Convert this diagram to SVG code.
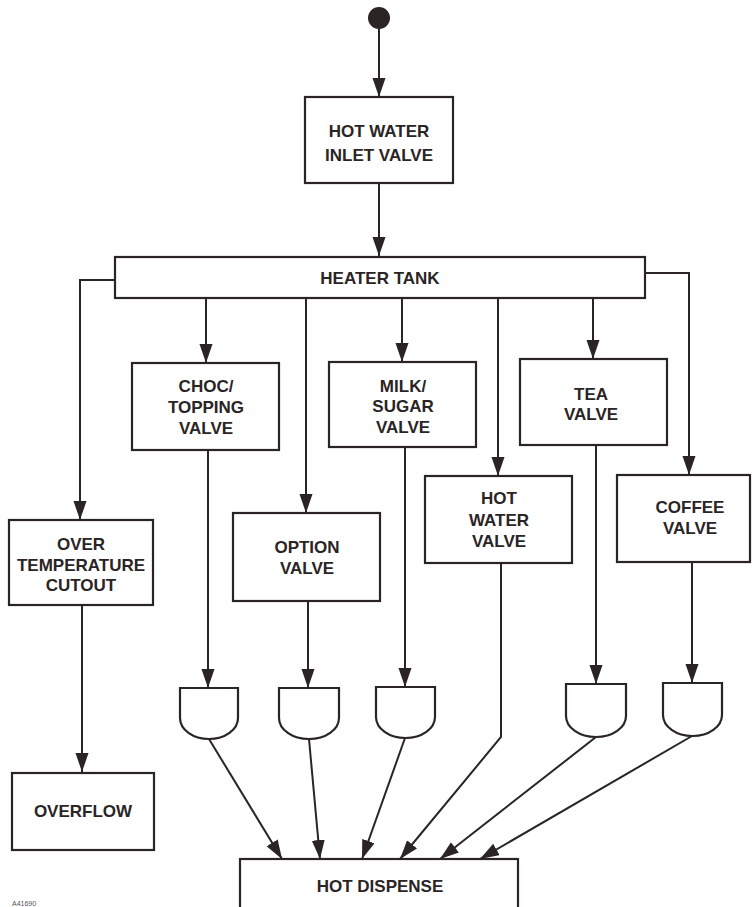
<svg xmlns="http://www.w3.org/2000/svg" width="753" height="907" viewBox="0 0 753 907">
<style>
.box{fill:#fff;stroke:#2a2425;stroke-width:2.2}
.ln{fill:none;stroke:#2a2425;stroke-width:2}
.t{font-family:"Liberation Sans",Arial,sans-serif;font-weight:bold;font-size:17px;fill:#2a2425;text-anchor:middle}
.s{font-family:"Liberation Sans",Arial,sans-serif;font-size:7px;fill:#555}
</style>
<defs>
<marker id="ah" markerUnits="userSpaceOnUse" markerWidth="20" markerHeight="14" refX="19" refY="6.5" orient="auto">
<path d="M0,0 L19,6.5 L0,13 Z" fill="#2a2425"/>
</marker>
</defs>
<rect width="753" height="907" fill="#fff"/>
<g id="connectors">
<line class="ln" x1="379" y1="28" x2="379" y2="97" marker-end="url(#ah)"/>
<line class="ln" x1="379" y1="183" x2="379" y2="256" marker-end="url(#ah)"/>
<polyline class="ln" points="115,280 80,280 80,520" marker-end="url(#ah)"/>
<polyline class="ln" points="645,273 689,273 689,475" marker-end="url(#ah)"/>
<line class="ln" x1="206" y1="298" x2="206" y2="363" marker-end="url(#ah)"/>
<line class="ln" x1="306" y1="298" x2="306" y2="513" marker-end="url(#ah)"/>
<line class="ln" x1="402" y1="298" x2="402" y2="362" marker-end="url(#ah)"/>
<line class="ln" x1="498" y1="298" x2="498" y2="476" marker-end="url(#ah)"/>
<line class="ln" x1="593" y1="298" x2="593" y2="359" marker-end="url(#ah)"/>
<line class="ln" x1="82" y1="605" x2="82" y2="772" marker-end="url(#ah)"/>
<line class="ln" x1="208" y1="450" x2="208" y2="688" marker-end="url(#ah)"/>
<line class="ln" x1="308" y1="601" x2="308" y2="688" marker-end="url(#ah)"/>
<line class="ln" x1="405" y1="447" x2="405" y2="687" marker-end="url(#ah)"/>
<line class="ln" x1="596" y1="445" x2="596" y2="684" marker-end="url(#ah)"/>
<line class="ln" x1="692" y1="562" x2="692" y2="683" marker-end="url(#ah)"/>
<line class="ln" x1="209" y1="739" x2="282" y2="859" marker-end="url(#ah)"/>
<line class="ln" x1="309" y1="739" x2="320" y2="859" marker-end="url(#ah)"/>
<line class="ln" x1="405" y1="738" x2="362" y2="859" marker-end="url(#ah)"/>
<polyline class="ln" points="501,563 501,737 400,859" marker-end="url(#ah)"/>
<line class="ln" x1="596" y1="737" x2="440" y2="859" marker-end="url(#ah)"/>
<line class="ln" x1="692" y1="736" x2="480" y2="859" marker-end="url(#ah)"/>
</g>
<g id="start"><circle cx="379" cy="18" r="11" fill="#2a2425"/></g>
<g id="inlet"><rect class="box" x="305" y="97" width="148" height="86"/>
<text class="t" x="379" y="137">HOT WATER</text><text class="t" x="379" y="161">INLET VALVE</text></g>
<g id="heater"><rect class="box" x="115" y="257" width="530" height="41"/>
<text class="t" x="380" y="284">HEATER TANK</text></g>
<g id="overtemp"><rect class="box" x="9" y="520" width="144" height="85"/>
<text class="t" x="81" y="550">OVER</text><text class="t" x="81" y="571">TEMPERATURE</text><text class="t" x="81" y="591">CUTOUT</text></g>
<g id="choc"><rect class="box" x="132" y="363" width="147" height="87"/>
<text class="t" x="206" y="392">CHOC/</text><text class="t" x="206" y="413">TOPPING</text><text class="t" x="206" y="434">VALVE</text></g>
<g id="option"><rect class="box" x="233" y="513" width="147" height="88"/>
<text class="t" x="307" y="553">OPTION</text><text class="t" x="307" y="574">VALVE</text></g>
<g id="milk"><rect class="box" x="329" y="362" width="147" height="85"/>
<text class="t" x="403" y="392">MILK/</text><text class="t" x="403" y="412">SUGAR</text><text class="t" x="403" y="433">VALVE</text></g>
<g id="hotwater"><rect class="box" x="425" y="476" width="147" height="87"/>
<text class="t" x="499" y="504">HOT</text><text class="t" x="499" y="526">WATER</text><text class="t" x="499" y="547">VALVE</text></g>
<g id="tea"><rect class="box" x="520" y="359" width="147" height="86"/>
<text class="t" x="591" y="400">TEA</text><text class="t" x="591" y="420">VALVE</text></g>
<g id="coffee"><rect class="box" x="617" y="475" width="133" height="87"/>
<text class="t" x="690" y="513">COFFEE</text><text class="t" x="690" y="534">VALVE</text></g>
<g id="cup1"><path class="box" d="M180,688 H238 V718 A29,21 0 0 1 180,718 Z"/></g>
<g id="cup2"><path class="box" d="M279,688 H339 V718 A30,21 0 0 1 279,718 Z"/></g>
<g id="cup3"><path class="box" d="M376,687 H435 V717 A29.5,21 0 0 1 376,717 Z"/></g>
<g id="cup4"><path class="box" d="M566,684 H626 V716 A30,21 0 0 1 566,716 Z"/></g>
<g id="cup5"><path class="box" d="M663,683 H722 V715 A29.5,21 0 0 1 663,715 Z"/></g>
<g id="overflow"><rect class="box" x="12" y="773" width="142" height="77"/>
<text class="t" x="83" y="817">OVERFLOW</text></g>
<g id="dispense"><rect class="box" x="240" y="859" width="278" height="60"/>
<text class="t" x="380" y="892">HOT DISPENSE</text></g>
<text class="s" x="12" y="906">A41690</text>
</svg>
